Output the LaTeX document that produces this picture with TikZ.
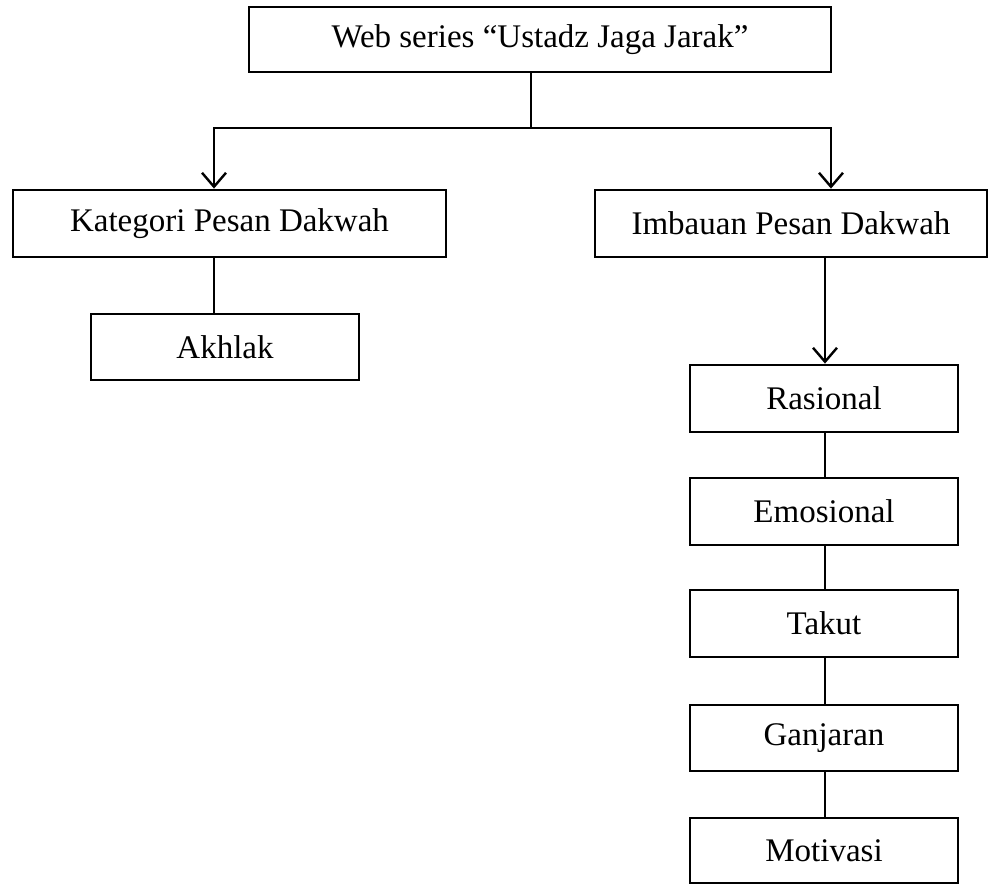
\documentclass[tikz,border=0pt]{standalone}
\usepackage{fontspec}
\setmainfont{Liberation Serif}
\usetikzlibrary{arrows.meta}
\begin{document}
\begin{tikzpicture}[x=1pt,y=-1pt,
  box/.style={draw,line width=2.8pt,rectangle,inner sep=0pt,font=\fontsize{33}{36}\selectfont,text=black},
  conn/.style={line width=2.8pt},
  arr/.style={conn,-{Straight Barb[length=14pt,width=24pt,line width=2.4pt]}}]
\useasboundingbox (0,0) rectangle (989,884);
\node[box,minimum width=582pt,minimum height=65pt] (top) at (540,39.5) {Web series “Ustadz Jaga Jarak”};
\node[box,minimum width=433pt,minimum height=67pt] (kat) at (229.5,223.5) {Kategori Pesan Dakwah};
\node[box,minimum width=268pt,minimum height=66pt] (akh) at (225,347) {Akhlak};
\node[box,minimum width=392pt,minimum height=67pt] (imb) at (791,223.5) {Imbauan Pesan Dakwah};
\node[box,minimum width=268pt,minimum height=67pt] (ras) at (824,398.5) {Rasional};
\node[box,minimum width=268pt,minimum height=67pt] (emo) at (824,511.5) {Emosional};
\node[box,minimum width=268pt,minimum height=67pt] (tak) at (824,623.5) {Takut};
\node[box,minimum width=268pt,minimum height=66pt] (gan) at (824,738) {Ganjaran};
\node[box,minimum width=268pt,minimum height=65pt] (mot) at (824,850.5) {Motivasi};
\coordinate (split) at (531,128);
\draw[conn] (top.south -| split) -- (split);
\draw[arr] (split) -| (kat.north -| 214,0);
\draw[arr] (split) -| (imb.north -| 831,0);
\draw[conn] (kat.south -| 214,0) -- (akh.north -| 214,0);
\draw[arr] (imb.south -| 825,0) -- (ras.north -| 825,0);
\draw[conn] (ras.south -| 825,0) -- (emo.north -| 825,0);
\draw[conn] (emo.south -| 825,0) -- (tak.north -| 825,0);
\draw[conn] (tak.south -| 825,0) -- (gan.north -| 825,0);
\draw[conn] (gan.south -| 825,0) -- (mot.north -| 825,0);
\end{tikzpicture}
\end{document}
